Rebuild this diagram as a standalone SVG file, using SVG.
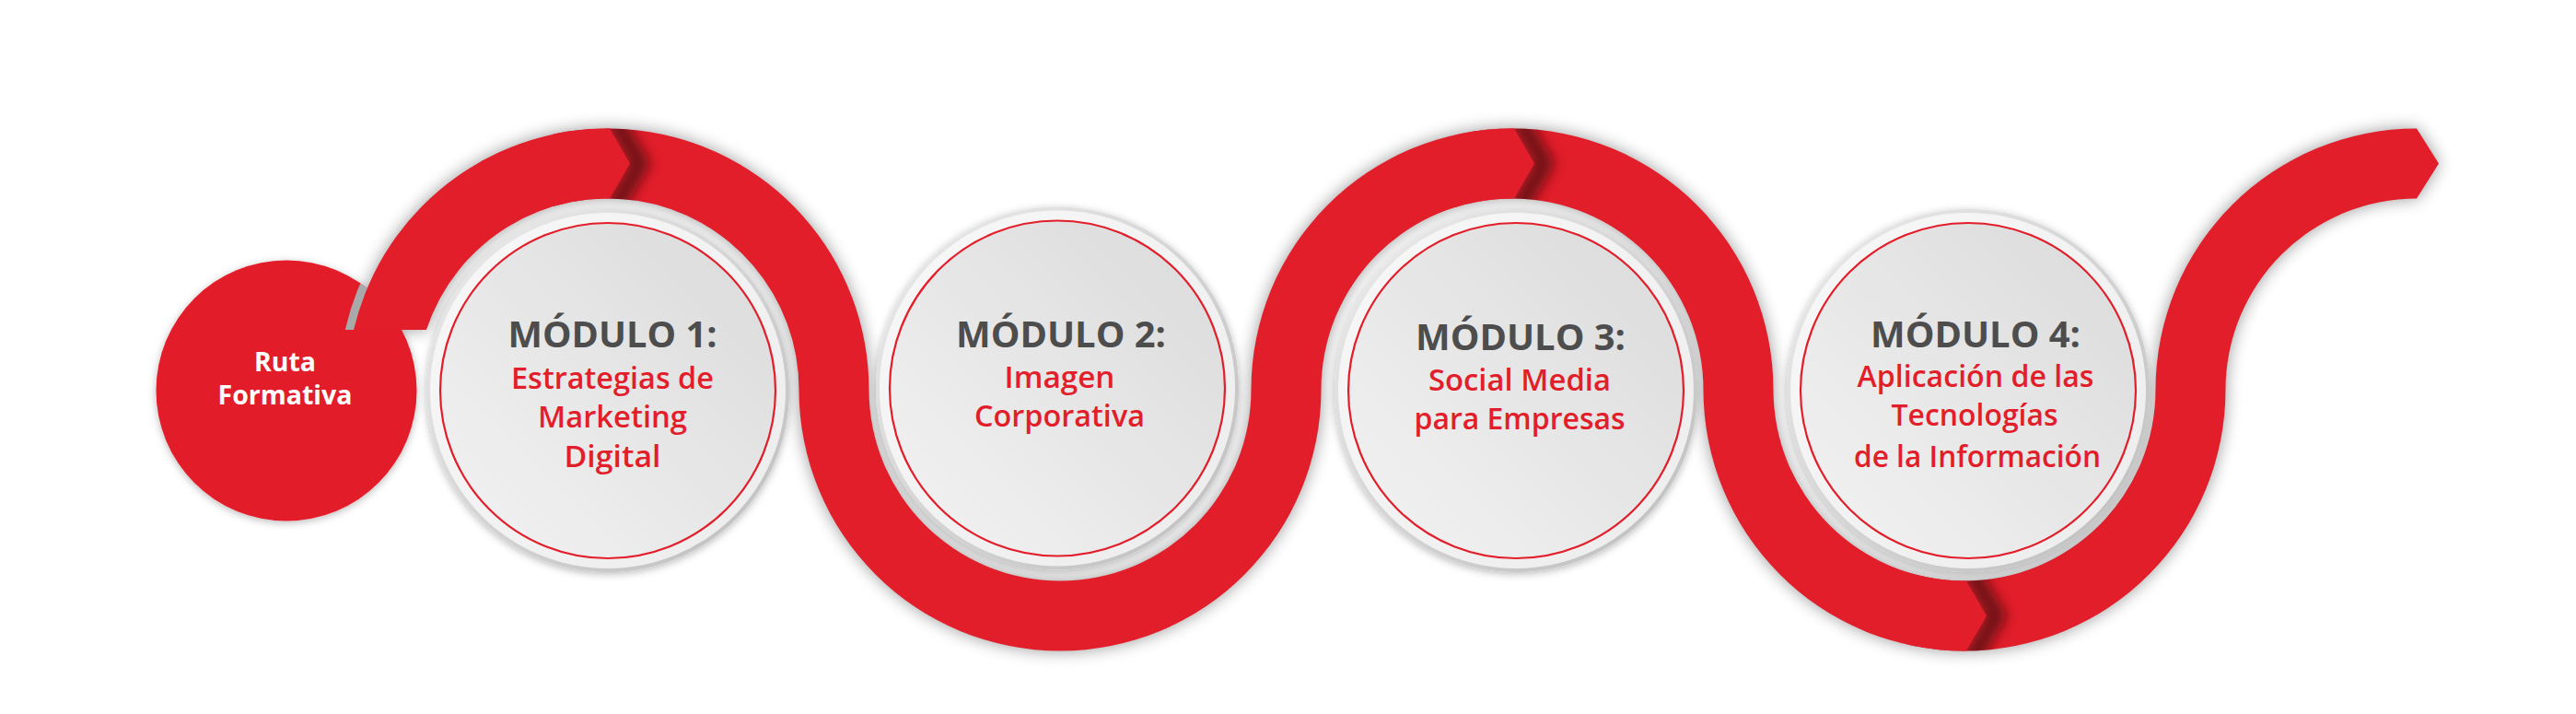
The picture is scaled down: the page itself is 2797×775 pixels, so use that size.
<svg xmlns="http://www.w3.org/2000/svg" width="2797" height="775" viewBox="0 0 2797 775">
<defs>
<style>
.mod{font-family:"Open Sans","Liberation Sans",sans-serif;font-weight:700;font-size:39px;fill:#4d4d4d;text-anchor:middle}
.sub{font-family:"Open Sans","Liberation Sans",sans-serif;font-weight:600;font-size:32px;fill:#e31e2b;text-anchor:middle}
.ruta{font-family:"Open Sans","Liberation Sans",sans-serif;font-weight:700;font-size:28px;fill:#ffffff;text-anchor:middle}
.red{fill:#e31e2b}
.bevel{fill:url(#bevel)}
.ring{fill:url(#ring)}
.inner{fill:url(#inner);stroke:#e31e2b;stroke-width:2.2}
.chevsh{fill:none;stroke:#3d0a0c;stroke-width:20;opacity:0.7}
</style>
<filter id="blur9"><feGaussianBlur stdDeviation="9"/></filter>
<filter id="discShadow" x="-20%" y="-20%" width="140%" height="140%"><feDropShadow dx="0" dy="2" stdDeviation="4" flood-color="#000" flood-opacity="0.28"/></filter>
<filter id="chevBlur" x="-200%" y="-50%" width="500%" height="200%"><feGaussianBlur stdDeviation="7"/></filter>
<linearGradient id="bevel" x1="0" y1="0" x2="1" y2="1"><stop offset="0" stop-color="#ececec"/><stop offset="1" stop-color="#bdbdbd"/></linearGradient>
<linearGradient id="ring" x1="0" y1="0" x2="1" y2="1"><stop offset="0" stop-color="#f8f8f8"/><stop offset="1" stop-color="#ececec"/></linearGradient>
<linearGradient id="inner" x1="0" y1="1" x2="1" y2="0"><stop offset="0" stop-color="#f3f3f3"/><stop offset="1" stop-color="#dadada"/></linearGradient>
<path id="bandPath" d="M 384.05 358 A 283.5 283.5 0 0 1 943.5 423 A 207.5 207.5 0 0 0 1151 630.5 A 207.5 207.5 0 0 0 1358.5 423 A 283.5 283.5 0 0 1 1642 139.5 A 283.5 283.5 0 0 1 1925.5 423 A 207.5 207.5 0 0 0 2133 630.5 A 207.5 207.5 0 0 0 2340.5 423 A 283.5 283.5 0 0 1 2624 139.5 L 2648 177.5 L 2624 215.5 A 207.5 207.5 0 0 0 2416.5 423 A 283.5 283.5 0 0 1 2133 706.5 A 283.5 283.5 0 0 1 1849.5 423 A 207.5 207.5 0 0 0 1642 215.5 A 207.5 207.5 0 0 0 1434.5 423 A 283.5 283.5 0 0 1 1151 706.5 A 283.5 283.5 0 0 1 867.5 423 A 207.5 207.5 0 0 0 462.94 358 Z"/>
<clipPath id="bandClip"><use href="#bandPath"/></clipPath>
<clipPath id="rutaClip"><circle cx="311" cy="424" r="141.5"/></clipPath>
<clipPath id="above358"><rect x="0" y="0" width="800" height="358"/></clipPath>
<mask id="noRuta" maskUnits="userSpaceOnUse" x="0" y="0" width="2797" height="775"><rect width="2797" height="775" fill="#fff"/><circle cx="311" cy="424" r="141.5" fill="#000"/></mask>
</defs>
<rect width="2797" height="775" fill="#ffffff"/>

<g id="ruta">
<circle cx="311" cy="424" r="141.5" class="red" filter="url(#discShadow)"/>
<text class="ruta" x="309.5" y="403.3" textLength="67" lengthAdjust="spacingAndGlyphs">Ruta</text>
<text class="ruta" x="309.5" y="439.3" textLength="146" lengthAdjust="spacingAndGlyphs">Formativa</text>
</g>

<g id="connectors">
<use href="#bandPath" fill="#000" opacity="0.4" filter="url(#blur9)" mask="url(#noRuta)"/>
<use href="#bandPath" class="red"/>
<g clip-path="url(#rutaClip)"><circle cx="660" cy="423" r="288" fill="none" stroke="#a9a9a9" stroke-width="9" clip-path="url(#above358)"/></g>
<g clip-path="url(#bandClip)">
<polyline class="chevsh" points="653.6,125 684,177.5 653.6,230" transform="translate(11,0)" filter="url(#chevBlur)"/>
<polygon class="red" points="600,125 653.6,125 684,177.5 653.6,230 600,230"/>
<polyline class="chevsh" points="1635.6,125 1666,177.5 1635.6,230" transform="translate(11,0)" filter="url(#chevBlur)"/>
<polygon class="red" points="1580,125 1635.6,125 1666,177.5 1635.6,230 1580,230"/>
<polyline class="chevsh" points="2126.6,616 2157,668.5 2126.6,721" transform="translate(11,0)" filter="url(#chevBlur)"/>
<polygon class="red" points="2070,616 2126.6,616 2157,668.5 2126.6,721 2070,721"/>
</g>
</g>

<g id="modulo1">
<circle cx="660" cy="424" r="197" class="bevel" filter="url(#discShadow)"/>
<circle cx="660" cy="424" r="193" class="ring"/>
<circle cx="660" cy="424" r="182" class="inner"/>
<text class="mod" x="665" y="377" textLength="227" lengthAdjust="spacingAndGlyphs">MÓDULO 1:</text>
<text class="sub" x="665" y="421.5" textLength="220" lengthAdjust="spacingAndGlyphs">Estrategias de</text>
<text class="sub" x="665" y="463.5" textLength="162" lengthAdjust="spacingAndGlyphs">Marketing</text>
<text class="sub" x="665" y="507" textLength="105" lengthAdjust="spacingAndGlyphs">Digital</text>
</g>

<g id="modulo2">
<circle cx="1148" cy="421.5" r="197" class="bevel" filter="url(#discShadow)"/>
<circle cx="1148" cy="421.5" r="193" class="ring"/>
<circle cx="1148" cy="421.5" r="182" class="inner"/>
<text class="mod" x="1152" y="376.5" textLength="228" lengthAdjust="spacingAndGlyphs">MÓDULO 2:</text>
<text class="sub" x="1150.5" y="421" textLength="120" lengthAdjust="spacingAndGlyphs">Imagen</text>
<text class="sub" x="1150.5" y="463.3" textLength="185" lengthAdjust="spacingAndGlyphs">Corporativa</text>
</g>

<g id="modulo3">
<circle cx="1646" cy="424" r="197" class="bevel" filter="url(#discShadow)"/>
<circle cx="1646" cy="424" r="193" class="ring"/>
<circle cx="1646" cy="424" r="182" class="inner"/>
<text class="mod" x="1651" y="380" textLength="228" lengthAdjust="spacingAndGlyphs">MÓDULO 3:</text>
<text class="sub" x="1650" y="424" textLength="198" lengthAdjust="spacingAndGlyphs">Social Media</text>
<text class="sub" x="1650" y="466" textLength="229" lengthAdjust="spacingAndGlyphs">para Empresas</text>
</g>

<g id="modulo4">
<circle cx="2137" cy="424" r="197" class="bevel" filter="url(#discShadow)"/>
<circle cx="2137" cy="424" r="193" class="ring"/>
<circle cx="2137" cy="424" r="182" class="inner"/>
<text class="mod" x="2145" y="376.5" textLength="228" lengthAdjust="spacingAndGlyphs">MÓDULO 4:</text>
<text class="sub" x="2145" y="420" textLength="257" lengthAdjust="spacingAndGlyphs">Aplicación de las</text>
<text class="sub" x="2144" y="461.7" textLength="181" lengthAdjust="spacingAndGlyphs">Tecnologías</text>
<text class="sub" x="2147" y="507" textLength="268" lengthAdjust="spacingAndGlyphs">de la Información</text>
</g>
</svg>
